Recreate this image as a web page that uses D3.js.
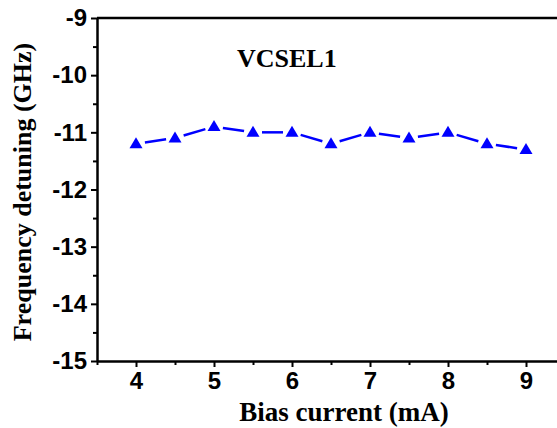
<!DOCTYPE html>
<html>
<head>
<meta charset="utf-8">
<script src="https://cdn.jsdelivr.net/npm/d3@7"></script>
<style>
  html, body { margin: 0; padding: 0; background: #fff; }
  svg { display: block; }
</style>
</head>
<body>
<svg id="chart" width="557" height="428"></svg>
<script>
const biasCurrent = [4, 4.5, 5, 5.5, 6, 6.5, 7, 7.5, 8, 8.5, 9];
const detuning = [-11.2, -11.1, -10.9, -11.0, -11.0, -11.2, -11.0, -11.1, -11.0, -11.2, -11.3];
const xTicks = [4, 5, 6, 7, 8, 9];
const xMinorTicks = [3.5, 4.5, 5.5, 6.5, 7.5, 8.5, 9.5];
const yTicks = [-15, -14, -13, -12, -11, -10, -9];
const yMinorTicks = [-14.5, -13.5, -12.5, -11.5, -10.5, -9.5];
const seriesLabel = "VCSEL1";
const xTitle = "Bias current (mA)";
const yTitle = "Frequency detuning (GHz)";

const svg = d3.select("#chart");
const x = d3.scaleLinear().domain([3.5, 9.5]).range([97, 565]);
const y = d3.scaleLinear().domain([-15, -9]).range([361, 18]);

const sans = "'Liberation Sans', Arial, sans-serif";
const serif = "'Liberation Serif', 'Times New Roman', serif";
const fmt = d => String(d);

// top frame line
svg.append("line")
  .attr("x1", x.range()[0]).attr("x2", x.range()[1])
  .attr("y1", y(-9)).attr("y2", y(-9))
  .attr("stroke", "#000").attr("stroke-width", 2.5);

// X axis
const gx = svg.append("g").attr("transform", `translate(0,${y(-15)})`)
  .call(d3.axisBottom(x).tickValues(xTicks).tickFormat(fmt).tickSize(6).tickSizeOuter(0).tickPadding(5));
gx.select(".domain").attr("stroke-width", 2.5);
gx.selectAll(".tick line").attr("stroke-width", 2);
gx.selectAll(".tick text").attr("font-family", sans).attr("font-weight", "bold").attr("font-size", 24).attr("fill", "#000");
svg.append("g").attr("transform", `translate(0,${y(-15)})`)
  .call(d3.axisBottom(x).tickValues(xMinorTicks).tickFormat("").tickSize(4).tickSizeOuter(0))
  .call(g => g.select(".domain").remove())
  .selectAll(".tick line").attr("stroke-width", 2);

// Y axis
const gy = svg.append("g").attr("transform", `translate(${x(3.5)},0)`)
  .call(d3.axisLeft(y).tickValues(yTicks).tickFormat(fmt).tickSize(6).tickSizeOuter(0).tickPadding(4));
gy.select(".domain").attr("stroke-width", 2.5);
gy.selectAll(".tick line").attr("stroke-width", 2);
gy.selectAll(".tick text").attr("font-family", sans).attr("font-weight", "bold").attr("font-size", 24).attr("fill", "#000");
svg.append("g").attr("transform", `translate(${x(3.5)},0)`)
  .call(d3.axisLeft(y).tickValues(yMinorTicks).tickFormat("").tickSize(4).tickSizeOuter(0))
  .call(g => g.select(".domain").remove())
  .selectAll(".tick line").attr("stroke-width", 2);

// data
const pts = biasCurrent.map((v, i) => [x(v), y(detuning[i])]);
const gap = 9;
const segs = d3.pairs(pts).map(([a, b]) => {
  const dx = b[0] - a[0], dy = b[1] - a[1];
  const L = Math.hypot(dx, dy);
  const ux = dx / L, uy = dy / L;
  return [a[0] + ux * gap, a[1] + uy * gap, b[0] - ux * gap, b[1] - uy * gap];
});
svg.append("g").selectAll("line").data(segs).join("line")
  .attr("x1", d => d[0]).attr("y1", d => d[1])
  .attr("x2", d => d[2]).attr("y2", d => d[3])
  .attr("stroke", "#0000ff").attr("stroke-width", 2.5);

const tw = 13, th = 11;
svg.append("g").selectAll("path").data(pts).join("path")
  .attr("d", d => `M${d[0]},${d[1] - th * 0.6}L${d[0] + tw / 2},${d[1] + th * 0.4}L${d[0] - tw / 2},${d[1] + th * 0.4}Z`)
  .attr("fill", "#0000ff");

// labels
svg.append("text").attr("x", 237).attr("y", 67)
  .attr("font-family", serif).attr("font-weight", "bold").attr("font-size", 26)
  .text(seriesLabel);

svg.append("text").attr("x", 344).attr("y", 421).attr("text-anchor", "middle")
  .attr("font-family", serif).attr("font-weight", "bold").attr("font-size", 27)
  .text(xTitle);

svg.append("text").attr("transform", "translate(31,192) rotate(-90)").attr("text-anchor", "middle")
  .attr("font-family", serif).attr("font-weight", "bold").attr("font-size", 26)
  .text(yTitle);
</script>
</body>
</html>
